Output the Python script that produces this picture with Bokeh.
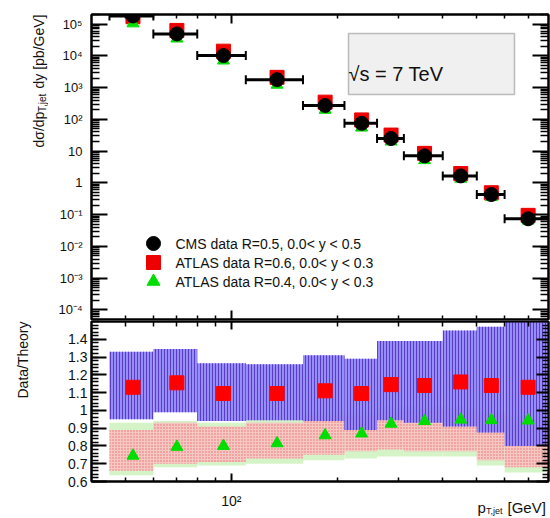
import math
import numpy as np
from bokeh.plotting import figure
from bokeh.models import (Range1d, FixedTicker, CustomJSTickFormatter, LogAxis,
                          LinearAxis, Label, BoxAnnotation)
from bokeh.layouts import column, row
from bokeh.embed import file_html
from bokeh.resources import INLINE

FONT = "Liberation Sans"
TXT = "#111111"

# ---------------- data ----------------
bin_lo = [45, 60, 80, 110, 160, 210, 260, 310, 400, 500, 600]
bin_hi = [60, 80, 110, 160, 210, 260, 310, 400, 500, 600, 800]
pt_center = [52.5, 70, 95, 135, 185, 235, 285, 355, 450, 550, 700]

cms_r05 = [1.8e5, 4.9e4, 1.02e4, 1.78e3, 274, 75, 25, 7.1, 1.66, 0.43, 0.074]
atlas_r06 = [1.7e5, 6.3e4, 1.4e4, 2.1e3, 348, 96, 32, 8.5, 1.97, 0.49, 0.095]
atlas_r04 = [1.05e5, 3.5e4, 7.1e3, 1.23e3, 199, 55, 20, 5.2, 1.35, 0.36, 0.065]

ratio_r06 = [1.13, 1.155, 1.095, 1.095, 1.11, 1.095, 1.145, 1.14, 1.16, 1.14, 1.13]
ratio_r04 = [0.745, 0.795, 0.80, 0.815, 0.86, 0.87, 0.925, 0.94, 0.948, 0.945, 0.943]

band_r06_lo = [0.95, 0.99, 0.94, 0.945, 0.94, 0.89, 0.945, 0.93, 0.91, 0.875, 0.80]
band_r06_hi = [1.33, 1.345, 1.265, 1.26, 1.31, 1.29, 1.39, 1.39, 1.45, 1.47, 1.50]
band_r04_lo = [0.66, 0.70, 0.71, 0.73, 0.75, 0.77, 0.78, 0.77, 0.77, 0.72, 0.68]
band_r04_hi = [0.89, 0.93, 0.91, 0.93, 0.97, 0.97, 1.00, 1.00, 1.00, 0.98, 0.95]
band_r04g_lo = [0.635, 0.68, 0.69, 0.70, 0.72, 0.73, 0.74, 0.74, 0.74, 0.69, 0.65]
band_r04g_hi = [0.93, 0.94, 0.93, 0.95, 0.99, 0.99, 1.02, 1.02, 1.02, 1.00, 0.97]

legend_labels = ["CMS data R=0.5, 0.0< y < 0.5",
                 "ATLAS data R=0.6, 0.0< y < 0.3",
                 "ATLAS data R=0.4, 0.0< y < 0.3"]

y_major = [1e-4, 1e-3, 1e-2, 1e-1, 1, 10, 1e2, 1e3, 1e4, 1e5]
x_major = [100]
x_minor = [50, 60, 70, 80, 90, 200, 300, 400, 500, 600, 700]
r_major = [0.6, 0.7, 0.8, 0.9, 1.0, 1.1, 1.2, 1.3, 1.4]

# ---------------- layout constants ----------------
PAGE_H = 518
LW = 48                 # left text column
W = 550 - LW            # plots column
FL, FR = 43, 2          # frame: x 91..548
H1, TOP1, BOTB1 = 321, 14, 2   # top frame 14..319
H2, BOTB2 = 167, 7             # bottom frame 321..481
H3 = PAGE_H - H1 - H2          # x-title strip (488..518)
XMIN, XMAX = 40, 800
YMIN, YMAX = 5e-5, 2e5
RMIN, RMAX = 0.6, 1.5
FW = W - FL - FR
FH1 = H1 - TOP1 - BOTB1
FH2 = H2 - BOTB2


def xd(sx):
    return 10 ** (math.log10(XMIN) + sx / FW * math.log10(XMAX / XMIN))


def yd1(sy):
    return 10 ** (math.log10(YMIN) + sy / FH1 * math.log10(YMAX / YMIN))


log_fmt = CustomJSTickFormatter(code="""
const e = Math.round(Math.log10(tick));
if (e === 0) return "1";
if (e === 1) return "10";
const sup = {"-": "\u207b", "0": "\u2070", "1": "\u00b9", "2": "\u00b2", "3": "\u00b3",
             "4": "\u2074", "5": "\u2075", "6": "\u2076", "7": "\u2077", "8": "\u2078", "9": "\u2079"};
return "10" + String(e).split("").map(c => sup[c]).join("");
""")
lin_fmt = CustomJSTickFormatter(code="""
if (Math.abs(tick - 1) < 1e-6) return "1";
return tick.toFixed(1);
""")

y_minor = []
for e in range(-5, 6):
    for k in range(2, 10):
        v = k * 10.0 ** e
        if YMIN <= v <= YMAX:
            y_minor.append(v)
r_minor = [round(v, 2) for v in np.arange(0.6, 1.5001, 0.02)]


def style_axis(ax, major_in, minor_in, labels=True, size="14px", standoff=5):
    ax.major_tick_in = major_in
    ax.major_tick_out = 0
    ax.minor_tick_in = minor_in
    ax.minor_tick_out = 0
    ax.major_tick_line_width = 2
    ax.minor_tick_line_width = 1.5
    ax.major_tick_line_color = "black"
    ax.minor_tick_line_color = "black"
    ax.axis_line_width = 2
    ax.axis_line_color = "black"
    ax.major_label_text_font = FONT
    ax.major_label_text_color = TXT
    if labels:
        ax.major_label_text_font_size = size
        ax.major_label_standoff = standoff
    else:
        ax.major_label_text_font_size = "1px"
        ax.major_label_text_alpha = 0
        ax.major_label_standoff = 0


def lab(fig, x, y, text, size, angle=0.0, align="left", baseline="alphabetic"):
    fig.add_layout(Label(x=x, y=y, text=text, angle=angle, text_font=FONT,
                         text_font_size=size, text_align=align,
                         text_baseline=baseline, text_color=TXT))


# ---------------- top panel ----------------
x_range = Range1d(XMIN, XMAX)
p1 = figure(width=W, height=H1, x_axis_type="log", y_axis_type="log",
            x_range=x_range, y_range=Range1d(YMIN, YMAX),
            output_backend="svg", toolbar_location=None,
            min_border_left=FL, min_border_right=FR,
            min_border_top=TOP1, min_border_bottom=BOTB1)
p1.grid.visible = False
p1.outline_line_color = "black"
p1.outline_line_width = 2

p1.yaxis.ticker = FixedTicker(ticks=y_major, minor_ticks=y_minor)
p1.yaxis.formatter = log_fmt
style_axis(p1.yaxis[0], 16, 8, True, "13px", 9)
p1.xaxis.ticker = FixedTicker(ticks=x_major, minor_ticks=x_minor)
style_axis(p1.xaxis[0], 9, 4, False)

ax = LogAxis(ticker=FixedTicker(ticks=y_major, minor_ticks=y_minor))
style_axis(ax, 16, 8, False)
p1.add_layout(ax, "right")
ax = LogAxis(ticker=FixedTicker(ticks=x_major, minor_ticks=x_minor))
style_axis(ax, 9, 4, False)
p1.add_layout(ax, "above")

p1.scatter(pt_center, atlas_r06, marker="square", size=14, color="#ee0000")
p1.scatter(pt_center, atlas_r04, marker="triangle", size=12, color="#00dd00")
p1.segment(bin_lo, cms_r05, bin_hi, cms_r05, line_color="black", line_width=3)
p1.scatter(bin_lo, cms_r05, marker="dash", angle=math.pi / 2, size=9,
           line_color="black", line_width=2)
p1.scatter(bin_hi, cms_r05, marker="dash", angle=math.pi / 2, size=9,
           line_color="black", line_width=2)
p1.scatter(pt_center, cms_r05, marker="circle", size=14, color="black")

# legend (manual, borderless as in the reference)
leg_marks = [("circle", "black", 14), ("square", "#ee0000", 14), ("triangle", "#00dd00", 13)]
leg_y = [76, 57, 38]
for (mk, col, sz), text, sy in zip(leg_marks, legend_labels, leg_y):
    p1.scatter([xd(62)], [yd1(sy)], marker=mk, size=sz, color=col)
    lab(p1, xd(84), yd1(sy), text, "14px", baseline="middle")

# sqrt(s) box
p1.add_layout(BoxAnnotation(left=xd(257), right=xd(423), bottom=yd1(225), top=yd1(286),
                            fill_color="#f0f0f0", fill_alpha=1.0,
                            line_color="#333333", line_width=1.5))
lab(p1, xd(257), yd1(246), "\u221as = 7 TeV", "20px")

# ---------------- bottom panel ----------------
p2 = figure(width=W, height=H2, x_axis_type="log",
            x_range=x_range, y_range=Range1d(RMIN, RMAX),
            output_backend="svg", toolbar_location=None,
            min_border_left=FL, min_border_right=FR,
            min_border_top=0, min_border_bottom=BOTB2)
p2.grid.visible = False
p2.outline_line_color = "black"
p2.outline_line_width = 2

p2.yaxis.ticker = FixedTicker(ticks=r_major, minor_ticks=r_minor)
p2.yaxis.formatter = lin_fmt
style_axis(p2.yaxis[0], 15, 7, True, "14px", 4)
p2.xaxis.ticker = FixedTicker(ticks=x_major, minor_ticks=x_minor)
style_axis(p2.xaxis[0], 8, 4, False)

ax = LinearAxis(ticker=FixedTicker(ticks=r_major, minor_ticks=r_minor))
style_axis(ax, 12, 6, False)
p2.add_layout(ax, "right")
ax = LogAxis(ticker=FixedTicker(ticks=x_major, minor_ticks=x_minor))
style_axis(ax, 8, 5, False)
p2.add_layout(ax, "above")

p2.quad(left=bin_lo, right=bin_hi, bottom=band_r04g_lo, top=band_r04g_hi,
        fill_color="#d4f4c8", line_color=None)
p2.quad(left=bin_lo, right=bin_hi, bottom=band_r04_lo, top=band_r04_hi,
        fill_color="#f6c8c4", line_color=None,
        hatch_pattern="dot", hatch_color="#e86a6a", hatch_scale=3, hatch_weight=1)
p2.quad(left=bin_lo, right=bin_hi, bottom=band_r06_lo, top=band_r06_hi,
        fill_color="#8c82f4", fill_alpha=0.9, line_color=None,
        hatch_pattern="vertical_line", hatch_color="#5a3ccc", hatch_scale=3,
        hatch_weight=1)
p2.scatter(pt_center, ratio_r06, marker="square", size=14, color="#ff0000")
p2.scatter(pt_center, ratio_r04, marker="triangle", size=12, color="#00dd00")

# ---------------- x-title strip (same x scale as the plots) ----------------
# y in this strip = page pixels measured up from the page bottom
p3 = figure(width=W, height=H3, x_axis_type="log", x_range=x_range,
            y_range=Range1d(0, H3), x_axis_location=None,
            y_axis_location=None, output_backend="svg", toolbar_location=None,
            min_border_left=FL, min_border_right=FR, min_border_top=0, min_border_bottom=0)
p3.grid.visible = False
p3.outline_line_color = None
lab(p3, 100, PAGE_H - 500, "10\u00b2", "14px", align="center")
lab(p3, xd(386), PAGE_H - 507, "p", "15px")
lab(p3, xd(394.5), PAGE_H - 510, "T,jet", "9px")
lab(p3, xd(416), PAGE_H - 507, "[GeV]", "15px")

# ---------------- left strip with the rotated axis titles ----------------
left = figure(width=LW, height=PAGE_H, x_range=Range1d(0, LW), y_range=Range1d(0, PAGE_H),
              x_axis_location=None, y_axis_location=None,
              output_backend="svg", toolbar_location=None, min_border=0)
left.grid.visible = False
left.outline_line_color = None
A = math.pi / 2
lab(left, 38, PAGE_H - 147, "d\u03c3/dp", "14px", angle=A)
lab(left, 42, PAGE_H - 111.5, "T,jet", "10px", angle=A)
lab(left, 38, PAGE_H - 88, "dy [pb/GeV]", "14px", angle=A)
lab(left, 22, PAGE_H - 398, "Data/Theory", "14px", angle=A)

layout = row(left, column(p1, p2, p3, spacing=0), spacing=0)
open("out.html", "w").write(file_html(layout, INLINE))
